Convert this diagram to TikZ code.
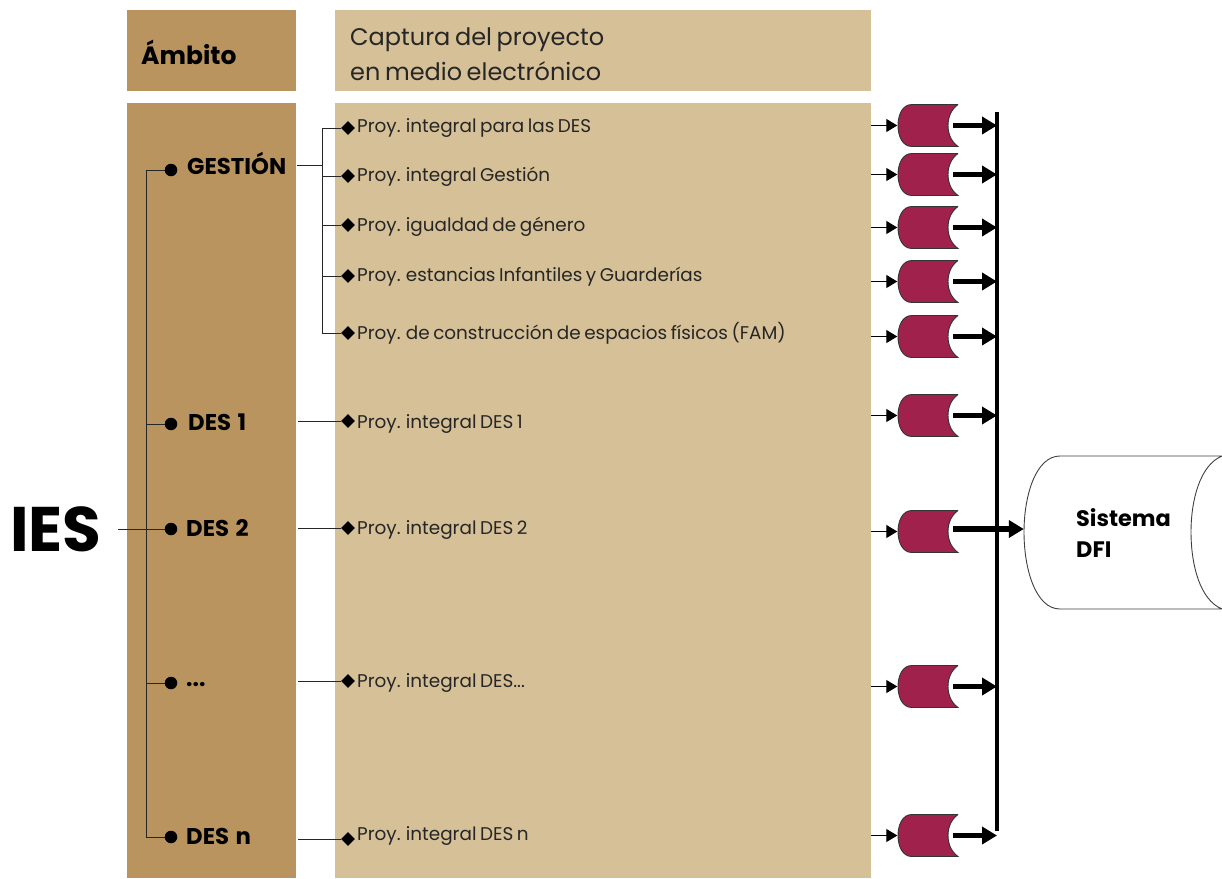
\documentclass[tikz,border=0pt]{standalone}
\usepackage{fontspec}
\setmainfont{Poppins}[WordSpace=0.72]
\usetikzlibrary{arrows.meta,shapes.geometric}
\definecolor{brownp}{HTML}{B9945F}
\definecolor{tanp}{HTML}{D5C097}
\definecolor{crim}{HTML}{A0224C}
\tikzset{
 x=1pt,y=-1pt,
 dotn/.style={circle,fill=black,inner sep=0,minimum size=12.5pt},
 dia/.style={diamond,fill=black,inner sep=0,minimum size=14pt},
 amb/.style={font=\bfseries\fontsize{25}{27}\selectfont,anchor=west,inner sep=0},
 lab/.style={font=\fontsize{18.4}{20}\selectfont,anchor=west,inner sep=0,text=black!85,yshift=-2.5pt},
 dlab/.style={font=\bfseries\fontsize{22.8}{24}\selectfont,anchor=west,inner sep=0},
 cylbox/.style={minimum width=60pt,minimum height=43pt,inner sep=0},
 thin line/.style={line width=1pt,black!85},
 inarrow/.style={line width=1pt,-{Triangle[length=11pt,width=13pt]}},
 outarrow/.style={line width=5.5pt,-{Triangle[length=15pt,width=17pt]}},
 cylfill/.style={fill=crim,draw=black!80,line width=.9pt},
}
\newcommand{\smallcyl}[3]{%
 \node[cylbox] (#3) at (927.5,#2) {};
 \draw[cylfill] (958,#2-21) -- (912,#2-21) .. controls (902,#2-21) and (898,#2-10) .. (898,#2)
   .. controls (898,#2+10) and (902,#2+21) .. (912,#2+21) -- (958,#2+21)
   .. controls (951,#2+16) and (948,#2+8) .. (948,#2)
   .. controls (948,#2-8) and (951,#2-16) .. (958,#2-21);
}
\begin{document}
\begin{tikzpicture}
\useasboundingbox (0,0) rectangle (1222,878);
\fill[brownp] (127,10) rectangle (296,91);
\fill[tanp] (335,10) rectangle (871,91);
\fill[brownp] (127,103) rectangle (296,878);
\fill[tanp] (335,103) rectangle (871,878);
\node[amb] (ambito) at (141,52) {Ámbito};
\node[anchor=west,inner sep=0,align=left,font=\fontsize{24}{35}\selectfont,text=black!85] (captura) at (350,54) {Captura del proyecto\\en medio electrónico};
\node[anchor=west,inner sep=0,font=\bfseries\fontsize{63}{65}\selectfont] (ies) at (10,529) {IES};
% dots
\node[dotn] (dg) at (171,170) {};
\node[dotn] (d1) at (171,424) {};
\node[dotn] (d2) at (171,529) {};
\node[dotn] (d3) at (171,683) {};
\node[dotn] (dn) at (171,837) {};
\node[dlab] (lg) at (187,163) {GESTIÓN};
\node[dlab] (l1) at (188,422) {DES\kern3pt\ 1};
\node[dlab] (l2) at (186,528) {DES\kern3pt\ 2};
\node[dlab] (l3) at (186,685) {...};
\node[dlab] (ln) at (186,836) {DES\kern3pt\ n};
\coordinate (iesend) at (118,529);
\draw[thin line] (iesend) -- (d2);
\draw[thin line] (dg) -| (146,837) -- (dn);
\draw[thin line] (146,424) -- (d1);
\draw[thin line] (146,683) -- (d3);
% diamonds and project labels
\node[dia] (p1) at (348,128) {};
\node[dia] (p2) at (348,176) {};
\node[dia] (p3) at (348,225) {};
\node[dia] (p4) at (348,276) {};
\node[dia] (p5) at (348,333) {};
\node[dia] (p6) at (348,421) {};
\node[dia] (p7) at (348,528) {};
\node[dia] (p8) at (348,681) {};
\node[dia] (p9) at (348,839) {};
\node[lab] (t1) at (357,125) {Proy. integral para las DES};
\node[lab] (t2) at (357,174) {Proy. integral Gestión};
\node[lab] (t3) at (357,224) {Proy. igualdad de género};
\node[lab] (t4) at (357,274) {Proy. estancias Infantiles y Guarderías};
\node[lab] (t5) at (357,331) {Proy. de construcción de espacios físicos (FAM)};
\node[lab] (t6) at (357,421) {Proy. integral DES 1};
\node[lab] (t7) at (357,527) {Proy. integral DES 2};
\node[lab] (t8) at (357,680) {Proy. integral DES...};
\node[lab] (t9) at (357,833) {Proy. integral DES n};
% bracket
\coordinate (gout) at (297,165);
\coordinate (br) at (322,165);
\draw[thin line] (gout) -- (br);
\draw[thin line] (p1) -| (322,333) -- (p5);
\draw[thin line] (322,176) -- (p2);
\draw[thin line] (322,225) -- (p3);
\draw[thin line] (322,276) -- (p4);
\coordinate (o1) at (298,421);
\coordinate (o2) at (298,528);
\coordinate (o3) at (298,681);
\coordinate (o4) at (298,839);
\draw[thin line] (o1) -- (p6);
\draw[thin line] (o2) -- (p7);
\draw[thin line] (o3) -- (p8);
\draw[thin line] (o4) -- (p9);
% bar
\coordinate (bartop) at (997,112);
\coordinate (barbot) at (997,831);
\draw[line width=4.7pt] (bartop) -- (barbot);
% big cylinder
\node[minimum width=198pt,minimum height=153pt,inner sep=0] (sys) at (1123,532.5) {};
\draw[black!75,line width=.9pt,fill=white] (1222,456) -- (1060,456) .. controls (1036,456) and (1024,495) .. (1024,532)
  .. controls (1024,570) and (1036,609) .. (1060,609) -- (1222,609)
  .. controls (1200,600) and (1191,565) .. (1191,532)
  .. controls (1191,500) and (1200,465) .. (1222,456);
\node[anchor=west,inner sep=0,align=left,font=\bfseries\fontsize{22.4}{31}\selectfont] (sl) at (1076,533) {Sistema\\DFI};
% small cylinders
\foreach \yy/\nn/\ss in {125.5/c1/a1,174.5/c2/a2,227.5/c3/a3,281.5/c4/a4,336.5/c5/a5,415.5/c6/a6,531.5/c7/a7,686.5/c8/a8,835.5/c9/a9}{
 \smallcyl{0}{\yy}{\nn}
 \coordinate (\ss) at (871,\yy);
 \draw[inarrow] (\ss) -- (\nn.west);
}
\foreach \nn in {c1,c2,c3,c4,c5,c6,c8,c9}{
 \coordinate (e\nn) at ([xshift=-4.5pt]\nn.east);
 \draw[outarrow] (e\nn) -- (e\nn -| bartop);
}
\coordinate (ec7) at ([xshift=-4.5pt,yshift=2.5pt]c7.east);
\draw[outarrow] (ec7) -- (ec7 -| sys.west);
\end{tikzpicture}
\end{document}
